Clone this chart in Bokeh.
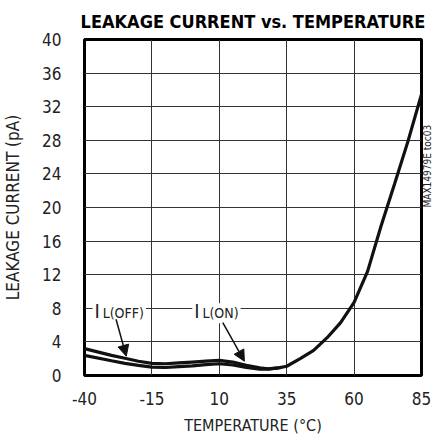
from bokeh.plotting import figure
from bokeh.models import FixedTicker, Label, Arrow, NormalHead, Range1d, LinearAxis
from bokeh.embed import file_html
from bokeh.resources import INLINE
import math

# ---- data ----
temp_off = [-40, -30, -25, -20, -15, -10, -5, 0, 5, 10, 15, 20, 25, 28, 32, 35, 40, 45, 50, 55, 60, 65, 70, 75, 80, 85]
leak_off = [3.2, 2.4, 2.05, 1.7, 1.45, 1.4, 1.5, 1.6, 1.7, 1.8, 1.6, 1.2, 0.9, 0.8, 0.9, 1.1, 2.0, 3.0, 4.5, 6.3, 8.7, 12.4, 17.8, 22.8, 27.9, 33.5]

temp_on = [-40, -30, -25, -20, -15, -10, -5, 0, 5, 10, 15, 20, 25, 28, 32]
leak_on = [2.4, 1.75, 1.45, 1.2, 1.0, 0.95, 1.05, 1.15, 1.3, 1.4, 1.25, 0.95, 0.75, 0.75, 0.9]

x_ticks = [-40, -15, 10, 35, 60, 85]
x_tick_labels = ["-40", "-15", "10", "35", "60", "85"]
y_ticks = [0, 4, 8, 12, 16, 20, 24, 28, 32, 36, 40]

FONT = "DejaVu Sans Condensed"

p = figure(frame_width=337, frame_height=336, output_backend="svg", toolbar_location=None,
           x_range=Range1d(-40, 85), y_range=Range1d(0, 40),
           min_border_left=77, min_border_right=17, min_border_top=39, min_border_bottom=60,
           title="LEAKAGE CURRENT vs. TEMPERATURE")

p.title.text_font = FONT
p.title.text_font_size = "18px"
p.title.text_font_style = "bold"
p.title.align = "center"
p.title.text_color = "black"
p.title.offset = 0
p.title.standoff = 15

p.outline_line_color = "black"
p.outline_line_width = 3
p.background_fill_color = "white"
p.border_fill_color = "white"

p.xaxis.ticker = FixedTicker(ticks=x_ticks)
p.xaxis.major_label_overrides = {t: s for t, s in zip(x_ticks, x_tick_labels)}
p.yaxis.ticker = FixedTicker(ticks=y_ticks)
for ax in (p.xaxis[0], p.yaxis[0]):
    ax.axis_line_color = None
    ax.major_tick_line_color = None
    ax.minor_tick_line_color = None
    ax.major_label_text_font = FONT
    ax.major_label_text_font_size = "17px"
    ax.major_label_text_color = "#222222"
    ax.axis_label_text_font = FONT
    ax.axis_label_text_font_style = "normal"
    ax.axis_label_text_color = "#222222"

p.xaxis.axis_label_text_font_size = "16px"
p.yaxis.axis_label_text_font_size = "17px"
p.xaxis.axis_label = "TEMPERATURE (°C)"
p.yaxis.axis_label = "LEAKAGE CURRENT (pA)"
p.xaxis.major_label_standoff = 10
p.yaxis.major_label_standoff = 17
p.xaxis.axis_label_standoff = 8
p.yaxis.axis_label_standoff = 16

p.xgrid.grid_line_color = "#333333"
p.ygrid.grid_line_color = "#333333"
p.xgrid.grid_line_width = 1
p.ygrid.grid_line_width = 1

# labels with white backgrounds (interrupt the grid line)
def add_label(xs, ys, txt, size):
    p.add_layout(Label(x=xs, y=ys, text=txt, text_font=FONT, text_font_size=size,
                       text_color="#222222", text_baseline="alphabetic",
                       background_fill_color="white", padding=2))

add_label(-37.0, 7.62, "I", "20px")
add_label(-34.0, 7.42, "L(OFF)", "14px")
add_label(0.0, 7.62, "I", "20px")
add_label(3.0, 7.42, "L(ON)", "14px")

# curves
p.line(temp_off, leak_off, line_color="#111111", line_width=3.2)
p.line(temp_on, leak_on, line_color="#111111", line_width=3.2)

# arrows
p.add_layout(Arrow(end=NormalHead(size=11, fill_color="#111111", line_color="#111111"),
                   x_start=-28.3, y_start=6.7, x_end=-24.5, y_end=2.3,
                   line_color="#111111", line_width=1.5))
p.add_layout(Arrow(end=NormalHead(size=11, fill_color="#111111", line_color="#111111"),
                   x_start=11.3, y_start=6.3, x_end=19.3, y_end=1.7,
                   line_color="#111111", line_width=1.5))

# side code as the label of an empty right axis
side = LinearAxis(ticker=FixedTicker(ticks=[]), axis_line_color=None,
                  major_tick_line_color=None, minor_tick_line_color=None,
                  major_label_text_font_size="0px",
                  axis_label="MAX14979E toc03", axis_label_text_font=FONT,
                  axis_label_text_font_size="10px", axis_label_text_font_style="normal",
                  axis_label_text_color="#222222", axis_label_standoff=6)
try:
    side.axis_label_orientation = math.pi / 2
except Exception:
    pass
try:
    side.axis_label_align = "right"
except Exception:
    pass
p.add_layout(side, "right")

open("out.html", "w").write(file_html(p, INLINE))
